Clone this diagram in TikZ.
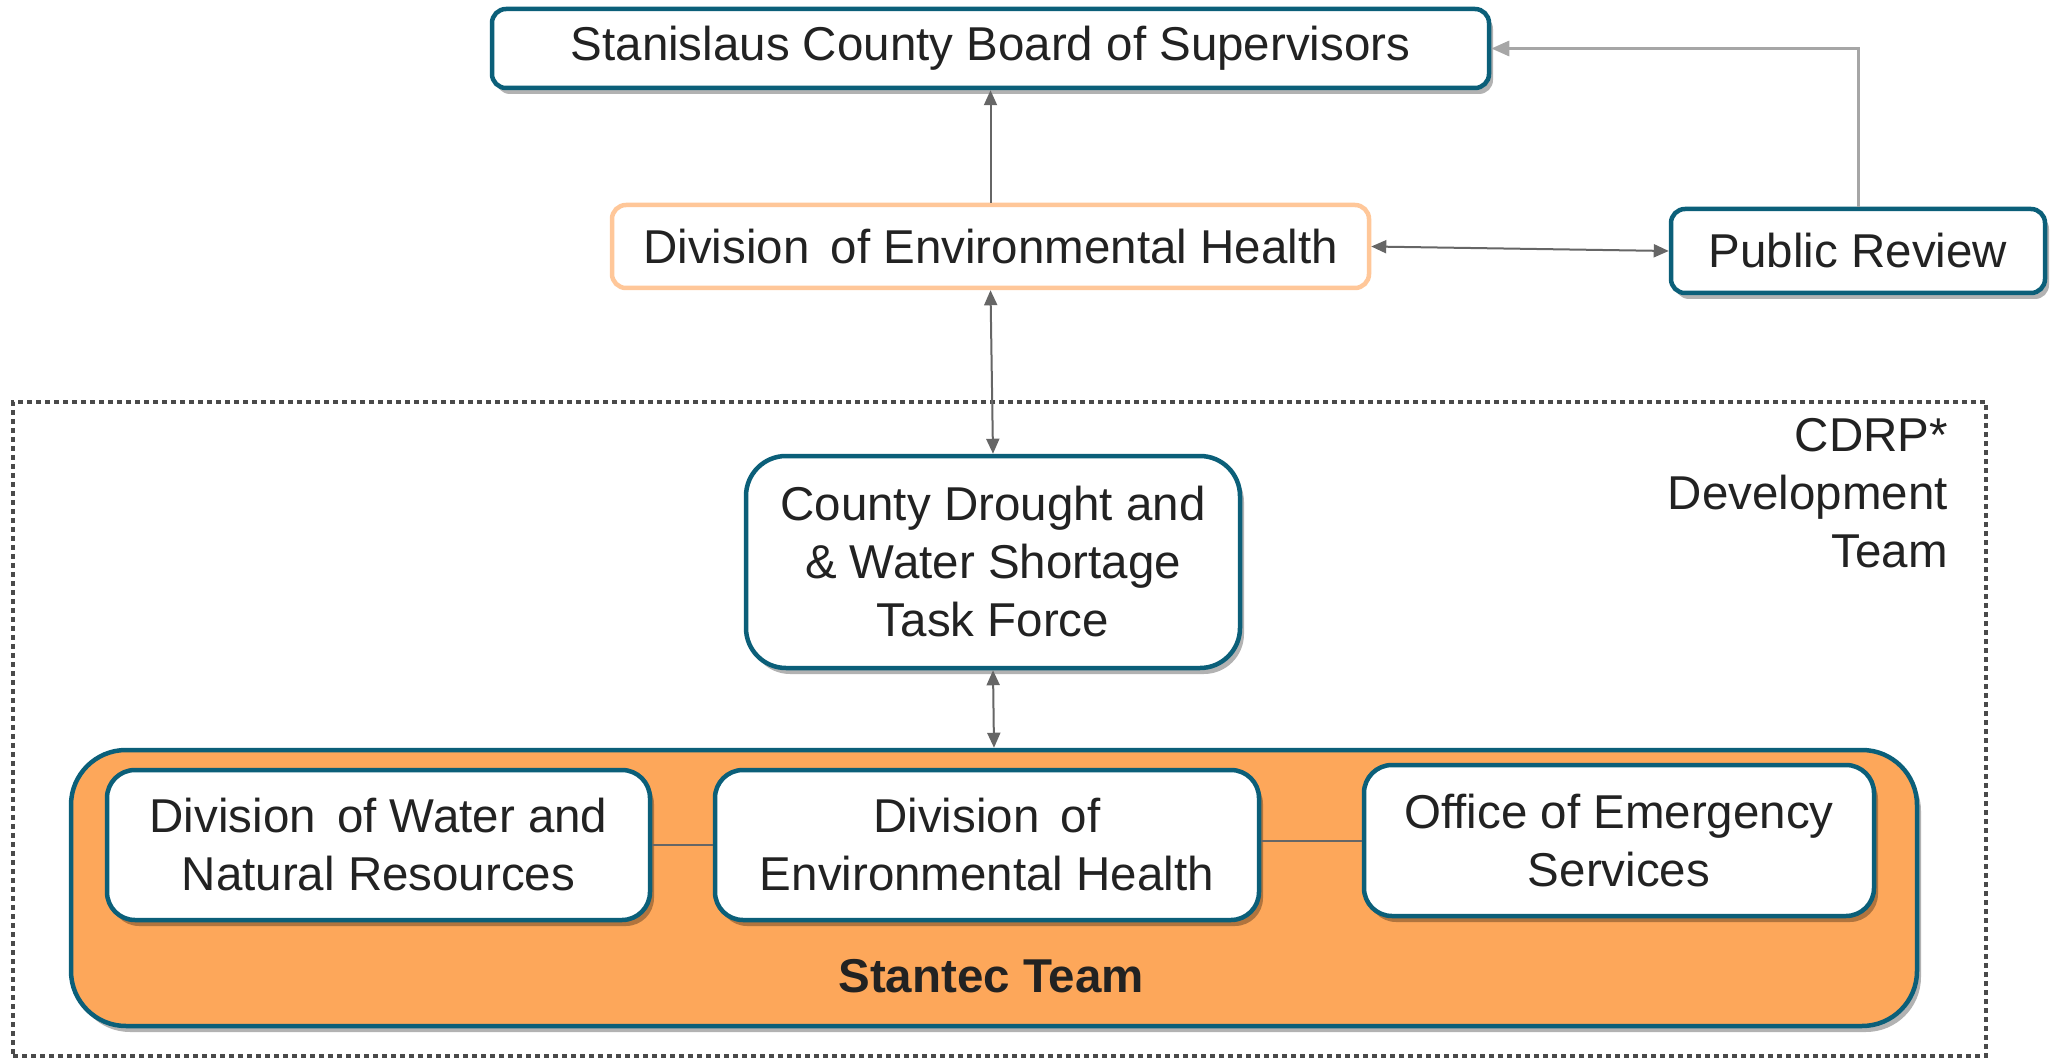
\documentclass[tikz,border=0pt]{standalone}
\usepackage{fontspec}
\setmainfont{Liberation Sans}
\usetikzlibrary{arrows.meta,shadows}
\definecolor{tealc}{HTML}{0B5F79}
\definecolor{orfill}{HTML}{FDA75A}
\definecolor{orline}{HTML}{FFC799}
\definecolor{txt}{HTML}{222222}
\definecolor{arr}{HTML}{666666}
\definecolor{arrlight}{HTML}{A6A6A6}
\definecolor{dotc}{HTML}{4A4A4A}
\begin{document}
\begin{tikzpicture}[x=1pt,y=-1pt,
  bigfont/.style={font=\fontsize{47.5}{58}\selectfont},
  shad/.style={drop shadow={shadow xshift=4pt, shadow yshift=-6pt, opacity=0.3, fill=black}},
  box/.style={rectangle, rounded corners=14pt, draw=tealc, line width=4.5pt, fill=white,
    align=center, bigfont, text=txt, inner sep=0pt},
  conn/.style={draw=arr, line width=2pt},
  tipd/.style={-{Triangle[length=15pt,width=13pt]}},
  tipdd/.style={{Triangle[length=15pt,width=13pt]}-{Triangle[length=15pt,width=13pt]}},
]
\useasboundingbox (0,0) rectangle (2059,1059);

% dotted development team frame
\node[draw=dotc, line width=4.5pt, dash pattern=on 5pt off 4pt, minimum width=1973pt, minimum height=654pt, inner sep=0pt] (frame) at (999.5,729) {};
\node[anchor=north east, align=right, bigfont, text=txt, inner sep=0pt] (cdrp) at (1948,418) {CDRP*\\Development\\Team};

% top boxes
\node[box, shad, minimum width=997pt, minimum height=79pt] (board) at (990.5,48.5) {Stanislaus County Board of Supervisors};
\node[box, draw=orline, minimum width=757pt, minimum height=83pt] (deh) at (990.5,246.5) {Division\hspace{0.45em}of Environmental Health};
\node[box, shad, minimum width=374pt, minimum height=84pt] (pr) at (1858,251) {Public Review};

% task force
\node[box, shad, rounded corners=40pt, minimum width=494pt, minimum height=212pt] (tf) at (993,562) {County Drought and\\\& Water Shortage\\Task Force};

% Stantec team
\node[box, shad, fill=orfill, rounded corners=55pt, minimum width=1846pt, minimum height=276pt] (stantec) at (994,888) {};
\node[font=\fontsize{47.5}{58}\selectfont\bfseries, text=txt, inner sep=0pt] (stlabel) at (991,976) {Stantec Team};

\node[box, shad, rounded corners=28pt, minimum width=543pt, minimum height=150pt] (water) at (378.5,845) {Division\hspace{0.45em}of Water and\\Natural Resources};
\node[box, shad, rounded corners=28pt, minimum width=544pt, minimum height=150pt] (deh2) at (987,845) {Division\hspace{0.45em}of\\Environmental Health};
\node[box, shad, rounded corners=28pt, minimum width=510pt, minimum height=151pt] (oes) at (1619,840.5) {Office of Emergency\\Services};

% connectors
\draw[conn, tipd] (deh.north) -- (board.south);
\draw[conn, tipdd] (deh.east) -- (pr.west);
\draw[conn, tipdd] (deh.south) -- (tf.north);
\draw[conn, tipdd] (tf.south) -- (stantec.north);
\coordinate (prup) at (1858,48.5);
\draw[draw=arrlight, line width=3pt, -{Triangle[length=18pt,width=15pt]}] (pr.north) -- (prup) -- (board.east);
\draw[conn] (water.east) -- (deh2.west);
\draw[conn] (deh2.east |- oes.west) -- (oes.west);
\end{tikzpicture}
\end{document}
